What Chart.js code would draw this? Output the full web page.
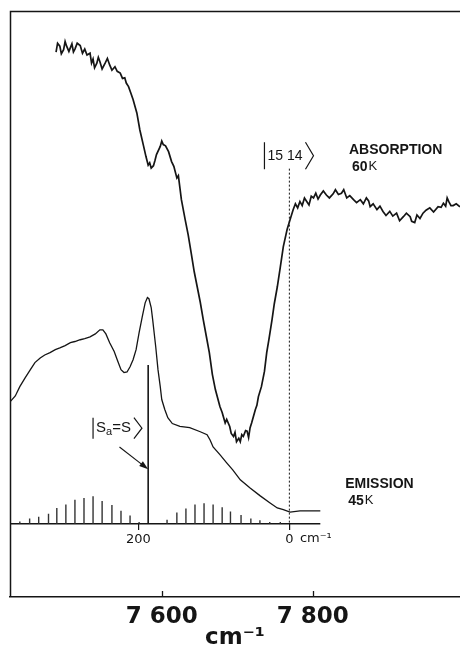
<!DOCTYPE html>
<html>
<head>
<meta charset="utf-8">
<script src="https://cdn.jsdelivr.net/npm/chart.js@4.4.1/dist/chart.umd.min.js"></script>
<style>
  html, body { margin: 0; padding: 0; background: #fff; }
</style>
</head>
<body>
<canvas id="chart" width="460" height="650"></canvas>
<script>
// absorption trace at 60 K (x: wavenumber cm-1, y: arbitrary units)
const absorptionX = [7460, 7462, 7465, 7467, 7470, 7472, 7474, 7477, 7481, 7483, 7485, 7488, 7492, 7495, 7498, 7501,
  7505, 7507, 7509, 7511, 7514, 7516, 7518, 7521, 7525, 7528, 7531, 7534, 7538, 7541, 7545, 7548, 7551, 7553, 7556,
  7559, 7562, 7567, 7571, 7576, 7579, 7582, 7584, 7586, 7589, 7591, 7593, 7598, 7600, 7602, 7605, 7609, 7613, 7616,
  7620, 7622, 7626, 7631, 7635, 7639, 7643, 7647, 7651, 7655, 7659, 7663, 7667, 7671, 7677, 7680, 7684, 7686, 7690,
  7692, 7695, 7697, 7699, 7702, 7704, 7706, 7708, 7711, 7713, 7715, 7717, 7719, 7724, 7726, 7728, 7732, 7736, 7739,
  7742, 7746, 7749, 7753, 7757, 7761, 7766, 7770, 7774, 7777, 7780, 7783, 7786, 7789, 7792, 7795, 7798, 7801, 7804,
  7807, 7810, 7814, 7818, 7822, 7827, 7830, 7834, 7838, 7841, 7845, 7849, 7854, 7858, 7863, 7867, 7871, 7874, 7876,
  7880, 7885, 7889, 7893, 7897, 7902, 7906, 7911, 7915, 7920, 7924, 7929, 7931, 7935, 7938, 7942, 7946, 7950, 7955,
  7960, 7966, 7970, 7973, 7976, 7978, 7980, 7983, 7986, 7990, 7995];
const absorptionY = [80.5, 82.0, 81.5, 80.2, 80.9, 82.3, 81.5, 80.6, 81.9, 80.5, 81.0, 82.0, 81.6, 80.3, 81.0, 80.0,
  80.3, 78.6, 79.3, 77.8, 78.6, 79.6, 78.9, 77.6, 78.6, 79.4, 78.3, 77.4, 78.0, 77.2, 76.9, 76.0, 76.1, 75.2, 74.6,
  73.5, 72.4, 70.1, 67.2, 64.4, 62.7, 61.2, 61.6, 60.7, 61.1, 62.0, 63.0, 64.4, 65.3, 64.7, 64.5, 63.5, 61.8, 61.0,
  59.0, 59.4, 55.3, 51.9, 49.3, 46.2, 43.0, 40.4, 37.8, 34.8, 32.0, 29.2, 25.5, 22.9, 20.0, 19.0, 17.2, 17.8, 16.6,
  15.4, 14.9, 15.6, 14.0, 14.6, 14.0, 15.2, 14.9, 15.9, 15.8, 14.7, 16.4, 17.2, 19.5, 20.2, 21.7, 23.4, 26.0, 29.2,
  31.5, 34.8, 37.5, 40.4, 43.8, 47.3, 50.2, 51.9, 53.6, 54.6, 53.9, 55.0, 54.3, 55.6, 55.0, 54.4, 55.9, 55.6, 56.4,
  55.4, 56.1, 56.8, 56.1, 55.6, 56.3, 57.0, 56.2, 56.4, 57.0, 55.6, 56.0, 55.3, 54.8, 55.3, 54.6, 55.6, 55.1, 54.1,
  54.6, 53.6, 54.2, 53.3, 52.6, 53.3, 52.5, 53.0, 51.7, 52.4, 53.0, 52.4, 51.6, 51.4, 52.7, 52.1, 53.0, 53.5, 53.9,
  53.2, 54.1, 54.0, 54.7, 54.2, 55.6, 55.0, 54.3, 54.3, 54.6, 54.1];

// emission trace at 45 K
const emissionX = [7399, 7406, 7412, 7419, 7426, 7432, 7439, 7445, 7452, 7459, 7465, 7472, 7479, 7485, 7492, 7498,
  7505, 7512, 7518, 7522, 7526, 7531, 7537, 7541, 7546, 7550, 7554, 7558, 7562, 7566, 7570, 7574, 7578, 7581, 7583,
  7586, 7588, 7592, 7595, 7598, 7600, 7604, 7608, 7614, 7624, 7637, 7651, 7660, 7664, 7668, 7677, 7686, 7694, 7704,
  7717, 7730, 7743, 7753, 7761, 7770, 7783, 7810];
const emissionY = [20.8, 21.8, 23.4, 24.9, 26.3, 27.5, 28.3, 28.8, 29.2, 29.7, 30.0, 30.4, 30.9, 31.1, 31.4, 31.6,
  31.9, 32.4, 33.1, 33.1, 32.4, 30.9, 29.4, 28.0, 26.3, 25.8, 25.9, 26.8, 28.0, 29.7, 32.6, 35.2, 37.7, 38.6, 38.4,
  36.9, 34.8, 30.2, 26.3, 23.4, 21.2, 19.5, 18.1, 17.1, 16.6, 16.4, 15.7, 15.2, 14.3, 13.1, 11.8, 10.4, 9.2, 7.5,
  6.1, 4.8, 3.6, 2.7, 2.4, 2.0, 2.2, 2.2];

// calculated progression, positions relative to the |15 14> origin (cm-1)
const stickRel = [357, 344, 332, 319, 308, 296, 284, 272, 260, 248, 235, 223, 211, 199,
  162, 149, 137, 125, 113, 101, 89, 78, 64, 51, 39, 26, 12];
const stickHeight = [0.4, 0.9, 1.2, 1.7, 2.7, 3.3, 4.1, 4.4, 4.7, 3.9, 3.2, 2.2, 1.4, 0.3,
  0.7, 1.9, 2.6, 3.3, 3.5, 3.3, 2.8, 2.1, 1.5, 0.9, 0.6, 0.3, 0.3];
const saLineRel = 187;
const saLineHeight = 27.1;
const originLevel = 60.6;   // top of the dashed |15 14> marker

const originWavenumber = 7769;
const xMin = 7399, xMax = 7995;
const bottomTicks = [7600, 7800];
const innerTicks = [200, 0];
const innerAxisEnd = -41;

const ink = '#151515';
const toPoints = (xs, ys) => xs.map((x, i) => ({ x: x, y: ys[i] }));

const stickPoints = [];
stickRel.forEach((r, i) => {
    stickPoints.push({ x: r, y: 0 }, { x: r, y: stickHeight[i] }, { x: r, y: null });
});

// frame, inward ticks and the hand-lettered labels of the figure
const figureLabels = {
    id: 'figureLabels',
    afterDraw(chart) {
        const { ctx, chartArea } = chart;
        const sx = chart.scales.x, sy = chart.scales.y;
        const X = v => sx.getPixelForValue(v);
        const Y = v => sy.getPixelForValue(v);
        ctx.save();
        ctx.strokeStyle = ink;
        ctx.fillStyle = ink;

        // left and top border
        ctx.lineWidth = 1.5;
        ctx.beginPath();
        ctx.moveTo(chartArea.left + 0.5, chartArea.bottom);
        ctx.lineTo(chartArea.left + 0.5, chartArea.top + 0.5);
        ctx.lineTo(chartArea.right, chartArea.top + 0.5);
        ctx.stroke();

        // inward ticks on the wavenumber axis
        ctx.lineWidth = 1.3;
        bottomTicks.forEach(t => {
            ctx.beginPath();
            ctx.moveTo(Math.round(X(t)) + 0.5, chartArea.bottom);
            ctx.lineTo(Math.round(X(t)) + 0.5, chartArea.bottom - 6);
            ctx.stroke();
        });

        const ket = (x, y, h, parts) => {
            let cx = X(x), cy = Y(y);
            ctx.lineWidth = 1.2;
            ctx.beginPath();
            ctx.moveTo(cx, cy - h / 2);
            ctx.lineTo(cx, cy + h / 2);
            ctx.stroke();
            cx += 3;
            ctx.textBaseline = 'middle';
            ctx.textAlign = 'left';
            parts.forEach(p => {
                ctx.font = p.font;
                ctx.fillText(p.text, cx, cy + (p.dy || 0));
                cx += ctx.measureText(p.text).width;
            });
            cx += 3;
            ctx.beginPath();
            ctx.moveTo(cx, cy - h / 2);
            ctx.lineTo(cx + 8, cy);
            ctx.lineTo(cx, cy + h / 2);
            ctx.stroke();
        };

        ket(7736, 62.8, 27, [{ text: '15 14', font: '14px "Liberation Sans", Arial, sans-serif' }]);
        ket(7509, 16.3, 21, [
            { text: 'S', font: '15px "Liberation Sans", Arial, sans-serif' },
            { text: 'a', font: '11px "Liberation Sans", Arial, sans-serif', dy: 4 },
            { text: '=S', font: '15px "Liberation Sans", Arial, sans-serif' }
        ]);

        ctx.textBaseline = 'middle';
        ctx.textAlign = 'left';
        ctx.font = 'bold 14px "Liberation Sans", Arial, sans-serif';
        ctx.fillText('ABSORPTION', X(7848), Y(63.7));
        ctx.fillText('EMISSION', X(7843), Y(6.7));
        const temp = (txt, x, y) => {
            ctx.font = 'bold 14px "Liberation Sans", Arial, sans-serif';
            ctx.fillText(txt, X(x), Y(y));
            const w = ctx.measureText(txt).width;
            ctx.font = '13px "Liberation Sans", Arial, sans-serif';
            ctx.fillText('K', X(x) + w + 1, Y(y));
        };
        temp('60', 7852, 60.9);
        temp('45', 7847, 3.9);

        ctx.font = '13px "DejaVu Sans", sans-serif';
        ctx.fillText('cm⁻¹', X(7783), Y(-2.6));

        // arrow onto the |Sa=S> line
        const x1 = X(7544), y1 = Y(13.1), x2 = X(7582), y2 = Y(9.3);
        const a = Math.atan2(y2 - y1, x2 - x1);
        ctx.lineWidth = 1.1;
        ctx.beginPath();
        ctx.moveTo(x1, y1);
        ctx.lineTo(x2 - 6 * Math.cos(a), y2 - 6 * Math.sin(a));
        ctx.stroke();
        ctx.beginPath();
        ctx.moveTo(x2, y2);
        ctx.lineTo(x2 - 9 * Math.cos(a) + 3 * Math.sin(a), y2 - 9 * Math.sin(a) - 3 * Math.cos(a));
        ctx.lineTo(x2 - 9 * Math.cos(a) - 3 * Math.sin(a), y2 - 9 * Math.sin(a) + 3 * Math.cos(a));
        ctx.closePath();
        ctx.fill();
        ctx.restore();
    }
};

new Chart(document.getElementById('chart'), {
    type: 'line',
    data: {
        datasets: [
            { data: toPoints(absorptionX, absorptionY), xAxisID: 'x', borderColor: ink, borderWidth: 1.7 },
            { data: toPoints(emissionX, emissionY), xAxisID: 'x', borderColor: ink, borderWidth: 1.3 },
            { data: stickPoints, xAxisID: 'x2', borderColor: '#333', borderWidth: 1.4, spanGaps: false },
            { data: [{ x: saLineRel, y: 0 }, { x: saLineRel, y: saLineHeight }], xAxisID: 'x2', borderColor: ink, borderWidth: 1.6 },
            { data: [{ x: originWavenumber - xMin, y: 0 }, { x: innerAxisEnd, y: 0 }], xAxisID: 'x2', borderColor: ink, borderWidth: 1.3 },
            { data: [{ x: 0, y: originLevel }, { x: 0, y: 0 }], xAxisID: 'x2', borderColor: ink, borderWidth: 1, borderDash: [2, 2] }
        ]
    },
    options: {
        responsive: false,
        animation: false,
        devicePixelRatio: 1,
        layout: { padding: { left: 10, top: 11, right: 0, bottom: 0 } },
        elements: { point: { radius: 0 }, line: { tension: 0 } },
        plugins: { legend: { display: false }, tooltip: { enabled: false } },
        scales: {
            x: {
                type: 'linear',
                position: 'bottom',
                min: xMin,
                max: xMax,
                afterBuildTicks: axis => { axis.ticks = bottomTicks.map(v => ({ value: v })); },
                afterFit: axis => { axis.height = 53; },
                border: { display: true, color: ink, width: 1.5 },
                grid: { display: false, drawTicks: false },
                ticks: {
                    color: ink,
                    padding: 6,
                    font: { family: '"DejaVu Sans", sans-serif', size: 23, weight: 'bold' },
                    callback: v => String(v).replace(/^(\d)/, '$1 ')
                },
                title: {
                    display: true,
                    text: 'cm⁻¹',
                    color: ink,
                    padding: { top: 0, bottom: 0 },
                    font: { family: '"DejaVu Sans", sans-serif', size: 23, weight: 'bold', lineHeight: 1 }
                }
            },
            x2: {
                type: 'linear',
                position: { y: 0 },
                reverse: true,
                min: originWavenumber - xMax,
                max: originWavenumber - xMin,
                afterBuildTicks: axis => { axis.ticks = innerTicks.map(v => ({ value: v })); },
                border: { display: false },
                grid: { display: true, drawOnChartArea: false, drawTicks: true, tickLength: 6, color: ink, lineWidth: 1.2 },
                ticks: {
                    color: ink,
                    padding: 2,
                    font: { family: '"DejaVu Sans", sans-serif', size: 13 }
                }
            },
            y: { type: 'linear', display: false, min: -12.5, max: 87.5 }
        }
    },
    plugins: [figureLabels]
});
</script>
</body>
</html>
